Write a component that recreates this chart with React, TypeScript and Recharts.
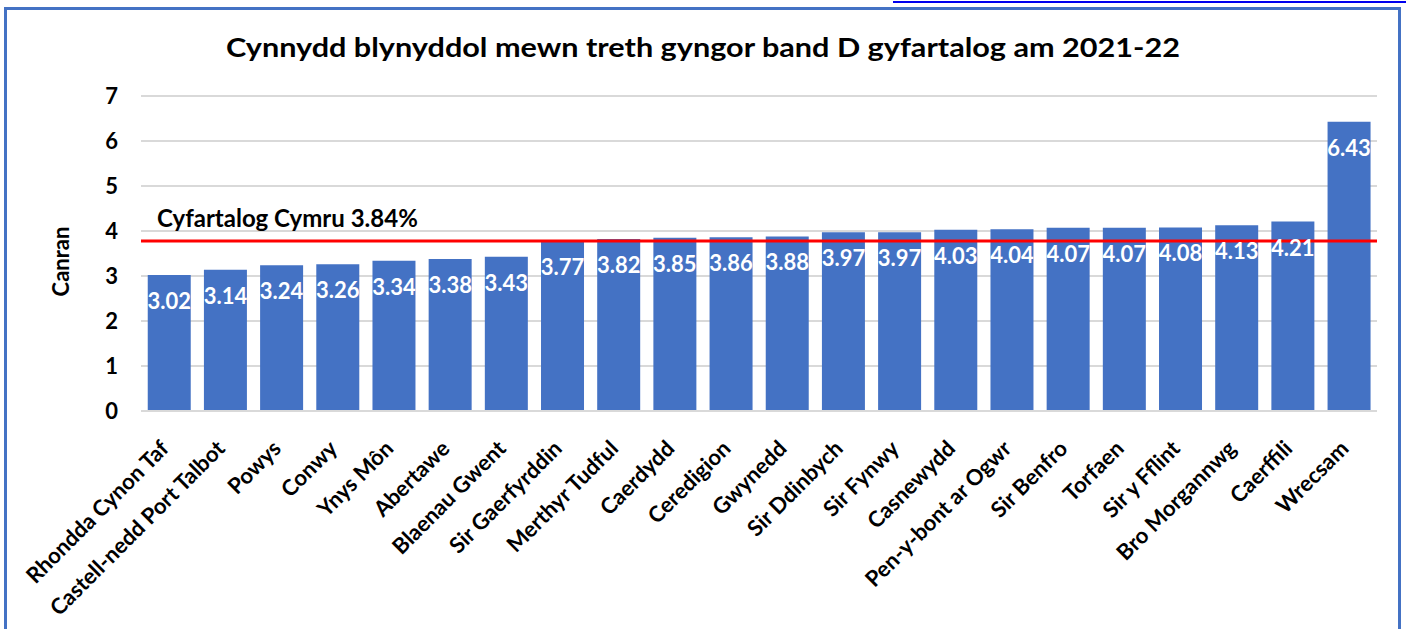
import React from 'react';
import { BarChart, Bar, XAxis, YAxis, CartesianGrid, ReferenceLine, LabelList } from 'recharts';

const categories = [
  'Rhondda Cynon Taf', 'Castell-nedd Port Talbot', 'Powys', 'Conwy', 'Ynys Môn', 'Abertawe',
  'Blaenau Gwent', 'Sir Gaerfyrddin', 'Merthyr Tudful', 'Caerdydd', 'Ceredigion', 'Gwynedd',
  'Sir Ddinbych', 'Sir Fynwy', 'Casnewydd', 'Pen-y-bont ar Ogwr', 'Sir Benfro', 'Torfaen',
  'Sir y Fflint', 'Bro Morgannwg', 'Caerffili', 'Wrecsam',
];
const values = [
  3.02, 3.14, 3.24, 3.26, 3.34, 3.38, 3.43, 3.77, 3.82, 3.85, 3.86, 3.88,
  3.97, 3.97, 4.03, 4.04, 4.07, 4.07, 4.08, 4.13, 4.21, 6.43,
];
const yTicks = [0, 1, 2, 3, 4, 5, 6, 7];
const averageLineValue = 3.78;
const averageLabel = 'Cyfartalog Cymru 3.84%';
const title = 'Cynnydd blynyddol mewn treth gyngor band D gyfartalog am 2021-22';
const yAxisTitle = 'Canran';

const data = categories.map((name, i) => ({ name, value: values[i] }));

const FONT = 'Lato, "Liberation Sans", sans-serif';

const XTick = (props: any) => {
  const { x, y, payload } = props;
  return (
    <text
      transform={`translate(${x + 1},${y + 39}) rotate(-45)`}
      textAnchor="end"
      fontFamily={FONT}
      fontWeight={700}
      fontSize={22}
      fill="#000"
    >
      {payload.value}
    </text>
  );
};

const BarValueLabel = (props: any) => {
  const { x, y, width, value } = props;
  return (
    <text
      x={x + width / 2}
      y={y + 34}
      textAnchor="middle"
      fontFamily={FONT}
      fontWeight={700}
      fontSize={22}
      fill="#ffffff"
    >
      {Number(value).toFixed(2)}
    </text>
  );
};

const AvgLabel = (props: any) => {
  const { viewBox } = props;
  return (
    <text
      x={viewBox.x + 16}
      y={viewBox.y - 14}
      textAnchor="start"
      fontFamily={FONT}
      fontWeight={700}
      fontSize={24}
      fill="#000"
    >
      {averageLabel}
    </text>
  );
};

const YTitle = (props: any) => {
  const { viewBox } = props;
  const cx = viewBox.x + 60;
  const cy = viewBox.y + viewBox.height / 2 + 8;
  return (
    <text
      transform={`translate(${cx},${cy}) rotate(-90)`}
      textAnchor="middle"
      dominantBaseline="central"
      fontFamily={FONT}
      fontWeight={700}
      fontSize={22}
      fill="#000"
    >
      {yAxisTitle}
    </text>
  );
};

export default function App() {
  return (
    <div
      style={{
        position: 'absolute',
        left: 0,
        top: 0,
        width: 1406,
        height: 629,
        overflow: 'hidden',
        background: '#ffffff',
      }}
    >
      <div
        style={{
          position: 'absolute',
          left: 893,
          top: 1,
          width: 513,
          height: 2,
          background: '#0000ee',
        }}
      />
      <div
        style={{
          position: 'absolute',
          left: 4,
          top: 7,
          width: 1397,
          height: 660,
          border: '3px solid #4472C4',
          boxSizing: 'border-box',
        }}
      />
      <svg
        width={1406}
        height={80}
        style={{ position: 'absolute', left: 0, top: 0 }}
      >
        <text
          x={226}
          y={57}
          textLength={954}
          lengthAdjust="spacingAndGlyphs"
          fontFamily={FONT}
          fontWeight={700}
          fontSize={27}
          fill="#000"
        >
          {title}
        </text>
      </svg>
      <div style={{ position: 'absolute', left: 0, top: 0 }}>
        <BarChart
          width={1406}
          height={629}
          data={data}
          margin={{ top: 96, right: 29, bottom: 0, left: 0 }}
          barCategoryGap="12%"
        >
          <CartesianGrid vertical={false} stroke="#d9d9d9" strokeWidth={2} />
          <XAxis
            dataKey="name"
            interval={0}
            height={218}
            tickLine={false}
            tickSize={0}
            tickMargin={0}
            axisLine={{ stroke: '#d9d9d9', strokeWidth: 2 }}
            tick={<XTick />}
          />
          <YAxis
            width={141}
            domain={[0, 7]}
            ticks={yTicks}
            axisLine={false}
            tickLine={false}
            tickSize={0}
            tickMargin={23}
            tick={{ fontFamily: FONT, fontWeight: 700, fontSize: 22, fill: '#000' }}
            label={<YTitle />}
          />
          <Bar dataKey="value" fill="#4472C4" isAnimationActive={false}>
            <LabelList dataKey="value" content={<BarValueLabel />} />
          </Bar>
          <ReferenceLine
            y={averageLineValue}
            stroke="#ff0000"
            strokeWidth={3}
            label={<AvgLabel />}
          />
        </BarChart>
      </div>
    </div>
  );
}
